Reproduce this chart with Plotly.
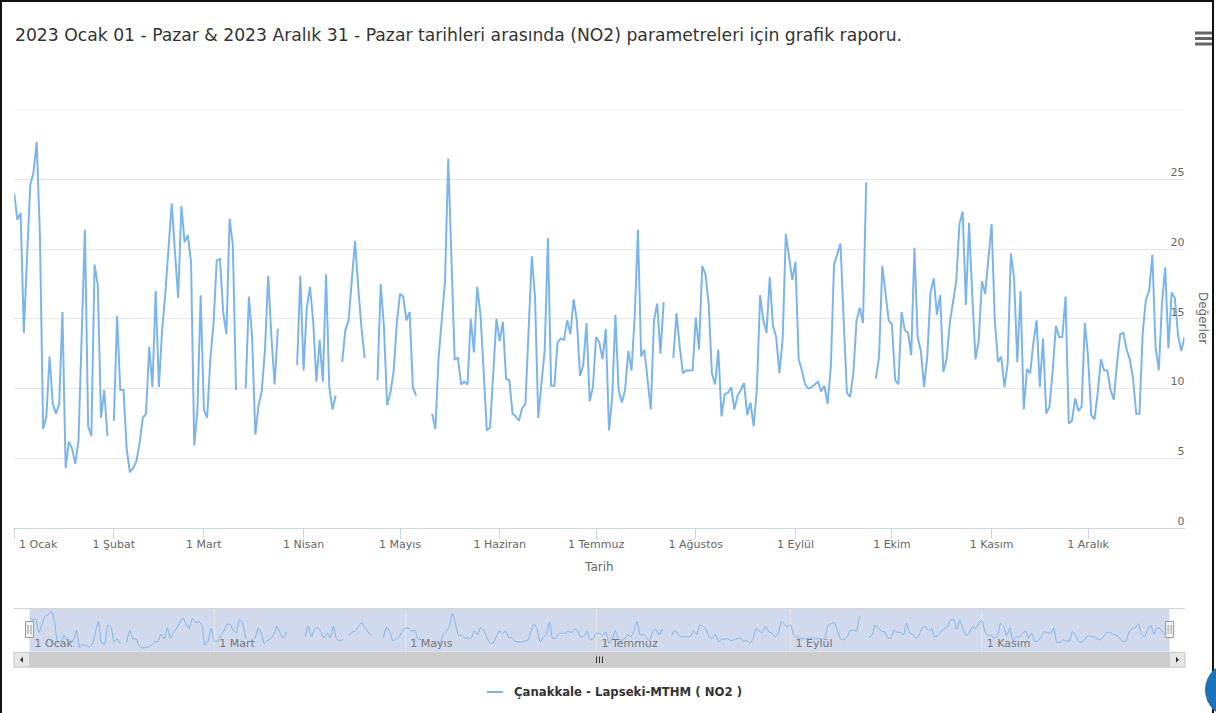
import pandas as pd
import plotly.graph_objects as go

W, H = 1216, 713


def px(x):
    return x / W


def py(y):
    return 1 - y / H


# ---------------- data (daily NO2, µg/m³; None = no measurement) ----------------
jan = [24.0, 22.1, 22.6, 14.0, 19.5, 24.6, 25.5, 27.7, 21.0, 7.1, 8.0, 12.3, 8.9, 8.2, 8.9,
       15.5, 4.3, 6.2, 5.7, 4.6, 6.3, 13.5, 21.4, 7.3, 6.6, 18.9, 17.4, 7.9, 9.9, 6.6, None]
feb = [7.7, 15.2, 9.9, 9.9, 5.6, 4.0, 4.3, 4.8, 6.1, 7.9, 8.2, 13.0, 10.1, 17.0, 10.1,
       14.2, 16.8, 20.2, 23.3, 19.8, 16.5, 23.1, 20.5, 21.0, 19.1, 5.9, 8.5, 16.7]
mar = [8.5, 7.9, 12.1, 14.7, 19.2, 19.3, 15.5, 13.9, 22.2, 20.3, 9.9, None, None, 10.0, 16.6,
       13.7, 6.7, 8.8, 9.8, 12.8, 18.1, 13.7, 10.3, 14.3, None, None, None, None, None, 11.7, 18.1]
apr = [11.3, 15.8, 17.3, 14.8, 10.5, 13.5, 10.5, 18.2, 10.1, 8.5, 9.5, None, 11.9, 14.2, 14.9,
       17.8, 20.6, 17.3, 14.4, 12.2, None, None, None, 10.6, 17.5, 14.4, 8.8, 9.7, 11.2, 14.7]
may = [16.8, 16.6, 14.9, 15.5, 10.1, 9.5, None, None, None, None, 8.2, 7.1, 12.2, 14.9, 17.7,
       26.5, 19.5, 12.1, 12.2, 10.3, 10.5, 10.3, 15.0, 12.6, 17.3, 15.4, 11.3, 7.0, 7.2, 11.1, 15.0]
jun = [13.4, 14.8, 10.7, 10.6, 8.2, 8.0, 7.7, 8.6, 8.9, 14.2, 19.5, 16.5, 7.9, 10.4, 12.7,
       20.8, 10.2, 10.2, 13.3, 13.6, 13.5, 14.9, 13.9, 16.4, 14.9, 10.9, 11.7, 14.7, 9.1, 10.1]
jul = [13.7, 13.3, 12.1, 14.3, 7.0, 9.4, 15.3, 9.9, 9.0, 9.9, 12.7, 11.3, 15.2, 21.4, 12.3,
       12.8, 10.7, 8.5, 14.9, 16.1, 12.5, 16.2, None, None, 12.2, 15.4, 13.0, 11.1, 11.3, 11.3, 11.3]
aug = [15.1, 12.8, 18.8, 18.2, 16.1, 11.1, 10.3, 12.8, 8.0, 9.6, 9.7, 10.1, 8.5, 9.5, 9.9,
       10.4, 8.1, 9.0, 7.3, 10.0, 16.7, 14.9, 14.0, 18.0, 14.5, 13.7, 11.1, 13.5, 21.1, 19.5, 17.8]
sep = [19.1, 12.1, 11.3, 10.3, 10.0, 10.1, 10.3, 10.5, 9.8, 10.2, 8.9, 11.6, 18.9, 19.7, 20.4,
       14.9, 9.7, 9.4, 11.1, 14.9, 15.8, 14.7, 24.8, None, None, 10.7, 12.3, 18.8, 16.8, 14.9]
oct_ = [14.6, 10.6, 10.3, 15.5, 14.2, 14.0, 12.4, 20.1, 13.7, 12.7, 10.1, 12.3, 16.9, 17.9, 15.3,
        16.7, 11.2, 12.1, 14.7, 16.2, 17.7, 21.8, 22.7, 16.0, 21.9, 16.6, 12.1, 13.5, 17.7, 16.8, 19.5]
nov = [21.8, 14.9, 11.9, 12.3, 10.1, 11.8, 19.7, 17.9, 11.9, 17.0, 8.5, 11.4, 11.1, 13.3, 14.9,
       10.1, 13.6, 8.2, 8.7, 11.3, 14.5, 13.7, 13.7, 16.6, 7.5, 7.7, 9.3, 8.4, 8.7, 14.7]
dec = [12.3, 8.1, 7.8, 9.7, 12.1, 11.3, 11.3, 9.9, 9.2, 11.8, 13.9, 14.0, 12.8, 12.1, 10.7,
       8.2, 8.2, 14.0, 16.4, 17.0, 19.6, 13.0, 11.3, 16.1, 18.7, 12.9, 16.9, 16.5, 13.8, 12.7, 13.7]

values = jan + feb + mar + apr + may + jun + jul + aug + sep + oct_ + nov + dec
dates = pd.date_range("2023-01-01", "2023-12-31", freq="D")

month_ticks = pd.date_range("2023-01-01", periods=12, freq="MS")
month_labels = ["1 Ocak", "1 Şubat", "1 Mart", "1 Nisan", "1 Mayıs", "1 Haziran",
                "1 Temmuz", "1 Ağustos", "1 Eylül", "1 Ekim", "1 Kasım", "1 Aralık"]
nav_ticks = month_ticks[::2]
nav_labels = month_labels[::2]
y_ticks = [0, 5, 10, 15, 20, 25, 30]
y_labels = ["0", "5", "10", "15", "20", "25", ""]

series_name = "Çanakkale - Lapseki-MTHM ( NO2 )"
title_text = ("2023 Ocak 01 - Pazar & 2023 Aralık 31 - Pazar tarihleri arasında (NO2) "
              "parametreleri için grafik raporu.")
x_title = "Tarih"
y_title = "Değerler"

LINE = "#7cb5ec"
FONT = "DejaVu Sans"

# first month label is justified inside the plot (as Highcharts does); others centred
main_ticktext = [""] + month_labels[1:]

fig = go.Figure()
fig.add_trace(go.Scatter(x=dates, y=values, mode="lines", name=series_name,
                         line=dict(color=LINE, width=2), connectgaps=False,
                         xaxis="x", yaxis="y", showlegend=False, hoverinfo="skip"))
fig.add_trace(go.Scatter(x=dates, y=values, mode="lines", name=series_name,
                         line=dict(color=LINE, width=1, shape="spline", smoothing=0.5),
                         connectgaps=False, xaxis="x2", yaxis="y2", showlegend=False,
                         hoverinfo="skip"))

shapes = []
# outer frame of the screenshot
shapes.append(dict(type="rect", xref="paper", yref="paper", x0=px(1), x1=px(1213),
                   y0=py(740), y1=py(1), line=dict(color="#111", width=2)))
# top gridline of the main plot (value 30)
shapes.append(dict(type="line", xref="x domain", yref="y", x0=0, x1=1, y0=30, y1=30,
                   line=dict(color="#e6e6e6", width=1)))
# navigator mask
shapes.append(dict(type="rect", xref="paper", yref="paper", x0=px(29.5), x1=px(1169.6),
                   y0=py(652), y1=py(608.7), fillcolor="rgba(102,133,194,0.3)",
                   line=dict(width=0), layer="below"))
# navigator top outline
shapes.append(dict(type="line", xref="paper", yref="paper", x0=px(14), x1=px(1185),
                   y0=py(608.7), y1=py(608.7), line=dict(color="#cccccc", width=1)))
# scrollbar track
shapes.append(dict(type="rect", xref="paper", yref="paper", x0=px(14), x1=px(1185),
                   y0=py(667.5), y1=py(652), fillcolor="#f2f2f2",
                   line=dict(color="#e6e6e6", width=1)))
# scrollbar thumb
shapes.append(dict(type="rect", xref="paper", yref="paper", x0=px(29.5), x1=px(1169.6),
                   y0=py(667), y1=py(652.5), fillcolor="#cccccc",
                   line=dict(color="#cccccc", width=1)))
# scrollbar buttons
for bx0, bx1 in [(14, 29.5), (1169.6, 1185)]:
    shapes.append(dict(type="rect", xref="paper", yref="paper", x0=px(bx0), x1=px(bx1),
                       y0=py(667), y1=py(652.5), fillcolor="#e6e6e6",
                       line=dict(color="#cccccc", width=1)))


def tri(path_pts):
    return "M " + " L ".join(f"{px(a)},{py(b)}" for a, b in path_pts) + " Z"


shapes.append(dict(type="path", xref="paper", yref="paper",
                   path=tri([(20, 659.8), (23, 656.8), (23, 662.8)]),
                   fillcolor="#333", line=dict(width=0)))
shapes.append(dict(type="path", xref="paper", yref="paper",
                   path=tri([(1179, 659.8), (1176, 656.8), (1176, 662.8)]),
                   fillcolor="#333", line=dict(width=0)))
# grip
for gx in [596.5, 599.5, 602.5]:
    shapes.append(dict(type="line", xref="paper", yref="paper", x0=px(gx), x1=px(gx),
                       y0=py(656.5), y1=py(663), line=dict(color="#333", width=1)))
# navigator handles
for hx in [29.5, 1169.6]:
    shapes.append(dict(type="rect", xref="paper", yref="paper", x0=px(hx - 4), x1=px(hx + 4),
                       y0=py(637.5), y1=py(621.5), fillcolor="#f2f2f2",
                       line=dict(color="#999999", width=1)))
    for gx in [hx - 1.5, hx + 1.5]:
        shapes.append(dict(type="line", xref="paper", yref="paper", x0=px(gx), x1=px(gx),
                           y0=py(625), y1=py(634), line=dict(color="#999999", width=1)))
# hamburger menu
for hy in [33, 38.5, 44]:
    shapes.append(dict(type="line", xref="paper", yref="paper", x0=px(1195), x1=px(1212),
                       y0=py(hy), y1=py(hy), line=dict(color="#666666", width=3)))
# legend symbol
shapes.append(dict(type="line", xref="paper", yref="paper", x0=px(487), x1=px(503),
                   y0=py(692), y1=py(692), line=dict(color=LINE, width=2)))
# partial widget circle at right edge
shapes.append(dict(type="circle", xref="paper", yref="paper", x0=px(1205), x1=px(1260),
                   y0=py(717.5), y1=py(662.5), fillcolor="#1b74bb", line=dict(width=0)))

annotations = [
    dict(text=title_text, x=px(13), y=py(35), xref="paper", yref="paper",
         xanchor="left", yanchor="middle", showarrow=False,
         font=dict(family=FONT, size=17.2, color="#333333")),
    dict(text=y_title, x=px(1203), y=py(318), xref="paper", yref="paper",
         xanchor="center", yanchor="middle", showarrow=False, textangle=90,
         font=dict(family=FONT, size=12, color="#666666")),
    dict(text="<b>" + series_name + "</b>", x=px(512), y=py(692), xref="paper", yref="paper",
         xanchor="left", yanchor="middle", showarrow=False,
         font=dict(family=FONT, size=11.7, color="#333333")),
    # justified first month label of the main x axis
    dict(text=month_labels[0], x=px(16.5), y=py(544), xref="paper", yref="paper",
         xanchor="left", yanchor="middle", showarrow=False,
         font=dict(family=FONT, size=11, color="#666666")),
]

fig.update_layout(
    width=W, height=H, margin=dict(l=0, r=0, t=0, b=0),
    paper_bgcolor="white", plot_bgcolor="white",
    font=dict(family=FONT, color="#666666"),
    showlegend=False,
    xaxis=dict(domain=[px(14.2), px(1184.5)], anchor="y", type="date",
               range=[dates[0], dates[-1]], tickmode="array",
               tickvals=list(month_ticks), ticktext=main_ticktext,
               ticklabelposition="outside", ticks="outside", ticklen=10,
               tickcolor="#ccd6eb", tickwidth=1, showline=True, linecolor="#ccd6eb",
               linewidth=1, showgrid=False, zeroline=False, ticklabelstandoff=-4,
               tickfont=dict(family=FONT, size=11, color="#666666"),
               title=dict(text=x_title, standoff=12,
                          font=dict(family=FONT, size=12, color="#666666"))),
    yaxis=dict(domain=[py(528), py(109.8)], anchor="x", side="right", range=[0, 30],
               tickmode="array", tickvals=y_ticks, ticktext=y_labels,
               ticklabelposition="inside", ticks="", showgrid=True, gridcolor="#e6e6e6",
               gridwidth=1, zeroline=False, showline=False, ticklabelshift=-7,
               ticklabelstandoff=-3,
               tickfont=dict(family=FONT, size=11, color="#666666")),
    xaxis2=dict(domain=[px(29.5), px(1169.6)], anchor="y2", type="date",
                range=[dates[0], dates[-1]], tickmode="array",
                tickvals=list(nav_ticks), ticktext=nav_labels,
                ticklabelposition="inside right", ticks="", showgrid=True,
                gridcolor="#e6e6e6", showline=False, zeroline=False,
                ticklabelshift=5, ticklabelstandoff=-3,
                tickfont=dict(family=FONT, size=11, color="#777777")),
    yaxis2=dict(domain=[py(652), py(608.7)], anchor="x2", range=[1.4, 29.4],
                visible=False, showgrid=False),
    shapes=shapes, annotations=annotations,
)

fig.write_html("out.html", config={"displayModeBar": False},
               post_script="document.body.style.margin='0';document.body.style.overflow='hidden';")
